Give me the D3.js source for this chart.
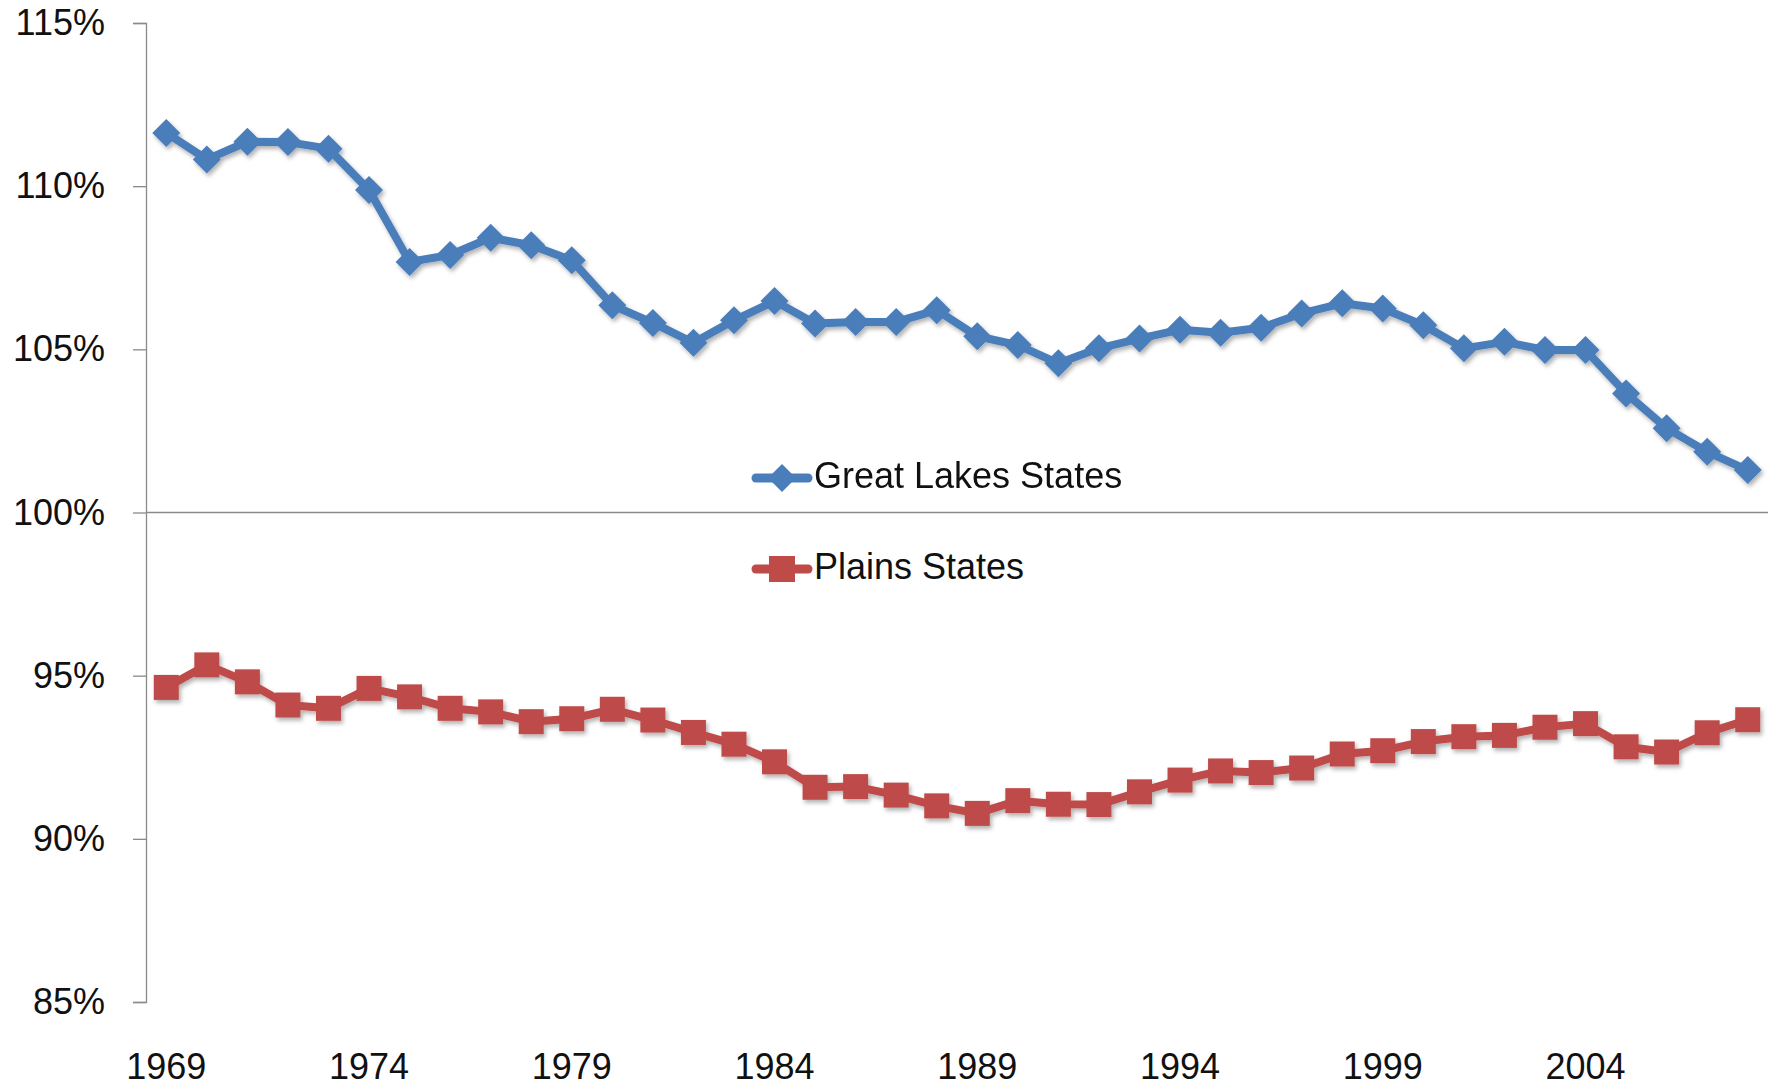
<!DOCTYPE html>
<html>
<head>
<meta charset="utf-8">
<script src="https://cdn.jsdelivr.net/npm/d3@7"></script>
<style>
  html, body { margin: 0; padding: 0; background: #fff; }
  svg text { font-family: "Liberation Sans", Arial, sans-serif; fill: #111; }
</style>
</head>
<body>
<div id="chart"></div>
<script>
/* Great Lakes vs Plains states - two line series, Excel look */

const W = 1785;
const H = 1089;
const MARGIN = { top: 23, right: 17, bottom: 87, left: 146 };

// years on the category axis
const YEARS = d3.range(1969, 2009);
const YEAR_LABELS = [1969, 1974, 1979, 1984, 1989, 1994, 1999, 2004];
const Y_TICKS = [85, 90, 95, 100, 105, 110, 115];

// percent values
const GREAT_LAKES = [
  111.63, 110.82, 111.36, 111.35, 111.15, 109.88, 107.68, 107.89, 108.42, 108.19,
  107.73, 106.35, 105.81, 105.20, 105.89, 106.48, 105.79, 105.84, 105.84, 106.20,
  105.40, 105.13, 104.57, 105.03, 105.33, 105.60, 105.51, 105.66, 106.10, 106.41,
  106.25, 105.74, 105.03, 105.23, 104.98, 104.98, 103.65, 102.58, 101.86, 101.30,
];
const PLAINS = [
  94.64, 95.33, 94.81, 94.10, 94.00, 94.61, 94.35, 94.00, 93.89, 93.59,
  93.68, 93.97, 93.64, 93.26, 92.90, 92.36, 91.58, 91.60, 91.34, 91.01,
  90.78, 91.17, 91.06, 91.05, 91.44, 91.80, 92.08, 92.03, 92.17, 92.60,
  92.70, 92.98, 93.13, 93.17, 93.42, 93.53, 92.82, 92.66, 93.25, 93.65,
];

const BLUE = "#4A7EBB";
const RED = "#BE4B48";
const AXIS_GREY = "#8a8a8a";

const width = W - MARGIN.left - MARGIN.right;
const height = H - MARGIN.top - MARGIN.bottom;

const svg = d3
  .select("#chart")
  .append("svg")
  .attr("width", W)
  .attr("height", H);

// soft excel-style shadow under the series
const defs = svg.append("defs");
defs
  .append("filter")
  .attr("id", "shadow")
  .attr("x", "-5%")
  .attr("y", "-5%")
  .attr("width", "110%")
  .attr("height", "115%")
  .append("feDropShadow")
  .attr("dx", 2)
  .attr("dy", 3)
  .attr("stdDeviation", 2)
  .attr("flood-color", "#000")
  .attr("flood-opacity", 0.3);

const g = svg
  .append("g")
  .attr("transform", `translate(${MARGIN.left},${MARGIN.top})`);

const x = d3.scaleBand().domain(YEARS).range([0, width]);
const y = d3.scaleLinear().domain([85, 115]).range([height, 0]);
const cx = (yr) => x(yr) + x.bandwidth() / 2;

/* ---------- y axis ---------- */
const yAxis = g
  .append("g")
  .call(
    d3
      .axisLeft(y)
      .tickValues(Y_TICKS)
      .tickSize(13)
      .tickPadding(28)
      .tickFormat((d) => d + "%")
  );
yAxis.select(".domain").attr("stroke", AXIS_GREY).attr("stroke-width", 1.3);
yAxis.selectAll(".tick line").attr("stroke", AXIS_GREY).attr("stroke-width", 1.3);
yAxis
  .selectAll(".tick text")
  .attr("font-size", 36)
  .attr("font-family", null)
  .attr("fill", "#111");

// horizontal axis crosses at 100%
g.append("line")
  .attr("x1", 0)
  .attr("x2", width)
  .attr("y1", y(100))
  .attr("y2", y(100))
  .attr("stroke", AXIS_GREY)
  .attr("stroke-width", 1.3);

/* ---------- year labels, at the bottom ---------- */
// alphabetic baseline so the descent box stays inside the page
g.selectAll(".year-label")
  .data(YEAR_LABELS)
  .join("text")
  .attr("class", "year-label")
  .attr("x", (d) => cx(d))
  .attr("y", height + 77)
  .attr("text-anchor", "middle")
  .attr("font-size", 36)
  .text((d) => d);

/* ---------- series ---------- */
const line = d3
  .line()
  .x((d) => cx(d.year))
  .y((d) => y(d.value));

const blueData = YEARS.map((yr, i) => ({ year: yr, value: GREAT_LAKES[i] }));
const redData = YEARS.map((yr, i) => ({ year: yr, value: PLAINS[i] }));

// excel diamond marker, about 28px across
const DIAMOND = "M0,-14L14,0L0,14L-14,0Z";
const SQ = 25;

function drawSeries(data, color, kind) {
  const s = g.append("g").attr("filter", "url(#shadow)");
  s.append("path")
    .datum(data)
    .attr("d", line)
    .attr("fill", "none")
    .attr("stroke", color)
    .attr("stroke-width", 8)
    .attr("stroke-linejoin", "round")
    .attr("stroke-linecap", "round");

  if (kind === "diamond") {
    s.selectAll("path.mark")
      .data(data)
      .join("path")
      .attr("class", "mark")
      .attr("d", DIAMOND)
      .attr("transform", (d) => `translate(${cx(d.year)},${y(d.value)})`)
      .attr("fill", color);
  } else {
    s.selectAll("rect.mark")
      .data(data)
      .join("rect")
      .attr("class", "mark")
      .attr("x", (d) => cx(d.year) - SQ / 2)
      .attr("y", (d) => y(d.value) - SQ / 2)
      .attr("width", SQ)
      .attr("height", SQ)
      .attr("fill", color);
  }
}

drawSeries(blueData, BLUE, "diamond");
drawSeries(redData, RED, "square");

/* ---------- legend, inside the plot ---------- */
const LEGEND = [
  { name: "Great Lakes States", color: BLUE, kind: "diamond", top: 478 },
  { name: "Plains States", color: RED, kind: "square", top: 569 },
];

const leg = svg.selectAll(".legend").data(LEGEND).join("g")
  .attr("class", "legend")
  .attr("transform", (d) => `translate(752,${d.top})`);

leg.append("line")
  .attr("x1", 4)
  .attr("x2", 56)
  .attr("y1", 0)
  .attr("y2", 0)
  .attr("stroke", (d) => d.color)
  .attr("stroke-width", 9)
  .attr("stroke-linecap", "round");

leg.each(function (d) {
  const el = d3.select(this);
  if (d.kind === "diamond") {
    el.append("path")
      .attr("d", DIAMOND)
      .attr("transform", "translate(30,0)")
      .attr("fill", d.color);
  } else {
    el.append("rect")
      .attr("x", 17)
      .attr("y", -13)
      .attr("width", 26)
      .attr("height", 26)
      .attr("fill", d.color);
  }
});

leg.append("text")
  .attr("x", 62)
  .attr("y", 0)
  .attr("dominant-baseline", "middle")
  .attr("font-size", 36)
  .text((d) => d.name);
</script>
</body>
</html>
